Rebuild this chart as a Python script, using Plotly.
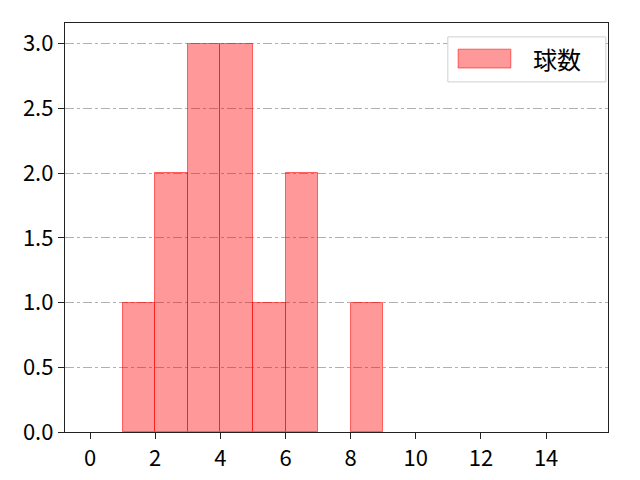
import plotly.graph_objects as go

# 球数ヒストグラム (bin幅 1)
bin_left = [1, 2, 3, 4, 5, 6, 7, 8]
counts = [1, 2, 3, 3, 1, 2, 0, 1]
x_ticks = [0, 2, 4, 6, 8, 10, 12, 14]
y_ticks = [0.0, 0.5, 1.0, 1.5, 2.0, 2.5, 3.0]
legend_name = '球数'

centers = [b + 0.5 for b in bin_left]
edge_w = [1 if c > 0 else 0 for c in counts]  # 0件のビンは枠線なし

fig = go.Figure()
fig.add_trace(go.Bar(
    x=centers, y=counts, width=1, name=legend_name,
    marker=dict(color='rgba(255,0,0,0.4)',
                line=dict(color='rgba(255,0,0,0.55)', width=edge_w)),
    showlegend=False,
))

axis_common = dict(
    showline=True, linecolor='#222222', linewidth=1.3, mirror=True,
    ticks='outside', ticklen=6, tickwidth=1.3, tickcolor='#222222',
    zeroline=False, automargin=False,
)

# 凡例は手書き (matplotlib風の横長パッチ)
fig.add_shape(type='rect', xref='paper', yref='paper',
              x0=0.705, x1=0.996, y0=0.856, y1=0.966,
              line=dict(color='#d0d0d0', width=1), fillcolor='white')
fig.add_shape(type='rect', xref='paper', yref='paper',
              x0=0.724, x1=0.821, y0=0.890, y1=0.936,
              line=dict(color='rgba(255,0,0,0.55)', width=1),
              fillcolor='rgba(255,0,0,0.4)')
fig.add_annotation(xref='paper', yref='paper', x=0.858, y=0.913,
                   xanchor='left', yanchor='middle', showarrow=False,
                   text=legend_name, font=dict(size=24))

fig.update_layout(
    width=632, height=472,
    margin=dict(l=57, r=32, t=15, b=48),
    plot_bgcolor='white', paper_bgcolor='white',
    font=dict(family='Noto Sans CJK JP', size=22, color='black'),
    bargap=0,
    xaxis=dict(range=[-0.77, 15.9], tickvals=x_ticks, showgrid=False, **axis_common),
    yaxis=dict(range=[0, 3.16], tickvals=y_ticks, tickformat='.1f',
               showgrid=True, gridcolor='#b0b0b0', griddash='dashdot', gridwidth=1,
               **axis_common),
)

fig.write_html("out.html")
